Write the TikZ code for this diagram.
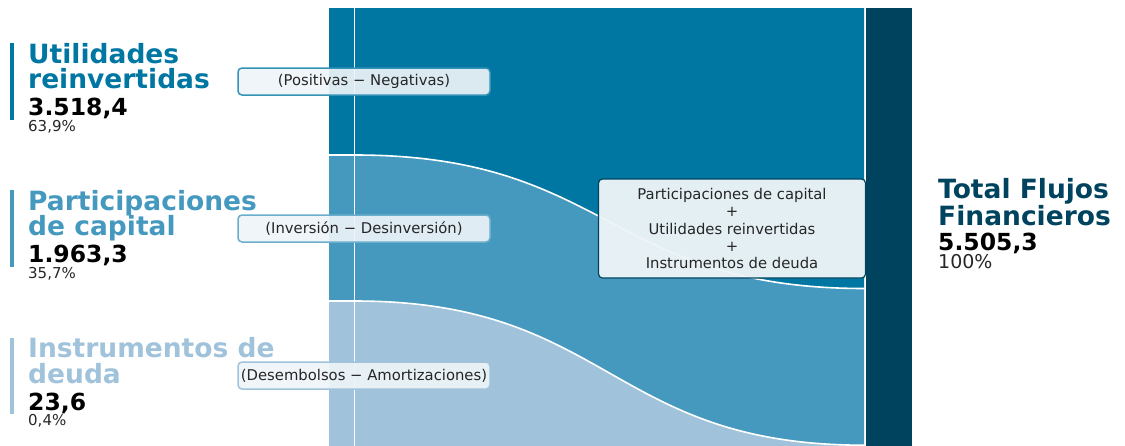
\documentclass[tikz,border=0pt]{standalone}
\usepackage{fontspec}
\setmainfont{DejaVu Sans}
\definecolor{cutil}{HTML}{0077A3}
\definecolor{cpart}{HTML}{4599BF}
\definecolor{cinst}{HTML}{A0C3DB}
\definecolor{ctot}{HTML}{00435E}
\definecolor{boxfill}{HTML}{EEF4F8}
\definecolor{boxtext}{HTML}{262626}
\begin{document}
\begin{tikzpicture}[x=1pt,y=-1pt,
  ttl/.style={anchor=base west, inner sep=0pt, font=\bfseries\fontsize{26.5}{26.5}\selectfont},
  num/.style={anchor=base west, inner sep=0pt, font=\bfseries\fontsize{23.5}{23.5}\selectfont, text=black},
  pct/.style={anchor=base west, inner sep=0pt, font=\fontsize{15}{15}\selectfont, text=black!85},
  lbl/.style={rounded corners=4pt, line width=1.5pt, fill=boxfill, fill opacity=0.92, text opacity=1,
    text=boxtext, minimum width=252pt, minimum height=27pt, inner sep=0pt,
    font=\fontsize{14.8}{14.8}\selectfont},
  sep/.style={white, line width=1.6pt}
]
\useasboundingbox (0,0) rectangle (1125,445);
\clip (0,0) rectangle (1125,445);

% left column
\fill[cutil] (329,8) rectangle (355,155);
\fill[cpart] (329,155) rectangle (355,301);
\fill[cinst] (329,301) rectangle (355,447);

% flows
\fill[cutil] (355,8) -- (864,8) -- (864,288.5)
  .. controls (609.5,288.5) and (609.5,155) .. (355,155) -- cycle;
\fill[cpart] (355,155) .. controls (609.5,155) and (609.5,288.5) .. (864,288.5)
  -- (864,445.2) .. controls (609.5,445.2) and (609.5,301) .. (355,301) -- cycle;
\fill[cinst] (355,301) .. controls (609.5,301) and (609.5,445.2) .. (864,445.2)
  -- (864,447) -- (355,447) -- cycle;

% separators
\draw[sep] (329,155) -- (355,155) .. controls (609.5,155) and (609.5,288.5) .. (864,288.5);
\draw[sep] (329,301) -- (355,301) .. controls (609.5,301) and (609.5,445.2) .. (864,445.2);
\draw[sep] (354.5,8) -- (354.5,447);

% total bar
\fill[ctot] (866,8) rectangle (912,447);

% left side bars
\fill[cutil] (10,43) rectangle (14,120);
\fill[cpart] (10,190) rectangle (14,267);
\fill[cinst] (10,338) rectangle (14,414);

% left texts
\node[ttl, text=cutil] (u1) at (28,63) {Utilidades};
\node[ttl, text=cutil] (u2) at (28,88) {reinvertidas};
\node[num] (u3) at (28,115) {3.518,4};
\node[pct] (u4) at (28,131) {63,9\%};

\node[ttl, text=cpart] (p1) at (28,210) {Participaciones};
\node[ttl, text=cpart] (p2) at (28,235) {de capital};
\node[num] (p3) at (28,262) {1.963,3};
\node[pct] (p4) at (28,278) {35,7\%};

\node[ttl, text=cinst] (i1) at (28,357) {Instrumentos de};
\node[ttl, text=cinst] (i2) at (28,383) {deuda};
\node[num] (i3) at (28,410) {23,6};
\node[pct] (i4) at (28,425) {0,4\%};

% right texts
\node[ttl, text=ctot] (t1) at (938,198) {Total Flujos};
\node[ttl, text=ctot] (t2) at (938,225) {Financieros};
\node[num] (t3) at (938,250) {5.505,3};
\node[pct, font=\fontsize{19}{19}\selectfont] (t4) at (938,268) {100\%};

% label boxes
\node[lbl, draw=cutil!80] (lu) at (364,81.5) {(Positivas − Negativas)};
\node[lbl, draw=cpart!80] (lp) at (364,228.5) {(Inversión − Desinversión)};
\node[lbl, draw=cinst] (li) at (364,375.5) {(Desembolsos − Amortizaciones)};

% center box
\node[rounded corners=4pt, line width=1.2pt, draw=ctot, fill=boxfill, fill opacity=0.96, text opacity=1,
  text=boxtext, minimum width=267pt, minimum height=99pt, inner sep=0pt, align=center,
  font=\fontsize{14.8}{17.3}\selectfont] (ctr) at (732,228.5)
  {Participaciones de capital\\+\\Utilidades reinvertidas\\+\\Instrumentos de deuda};
\end{tikzpicture}
\end{document}
